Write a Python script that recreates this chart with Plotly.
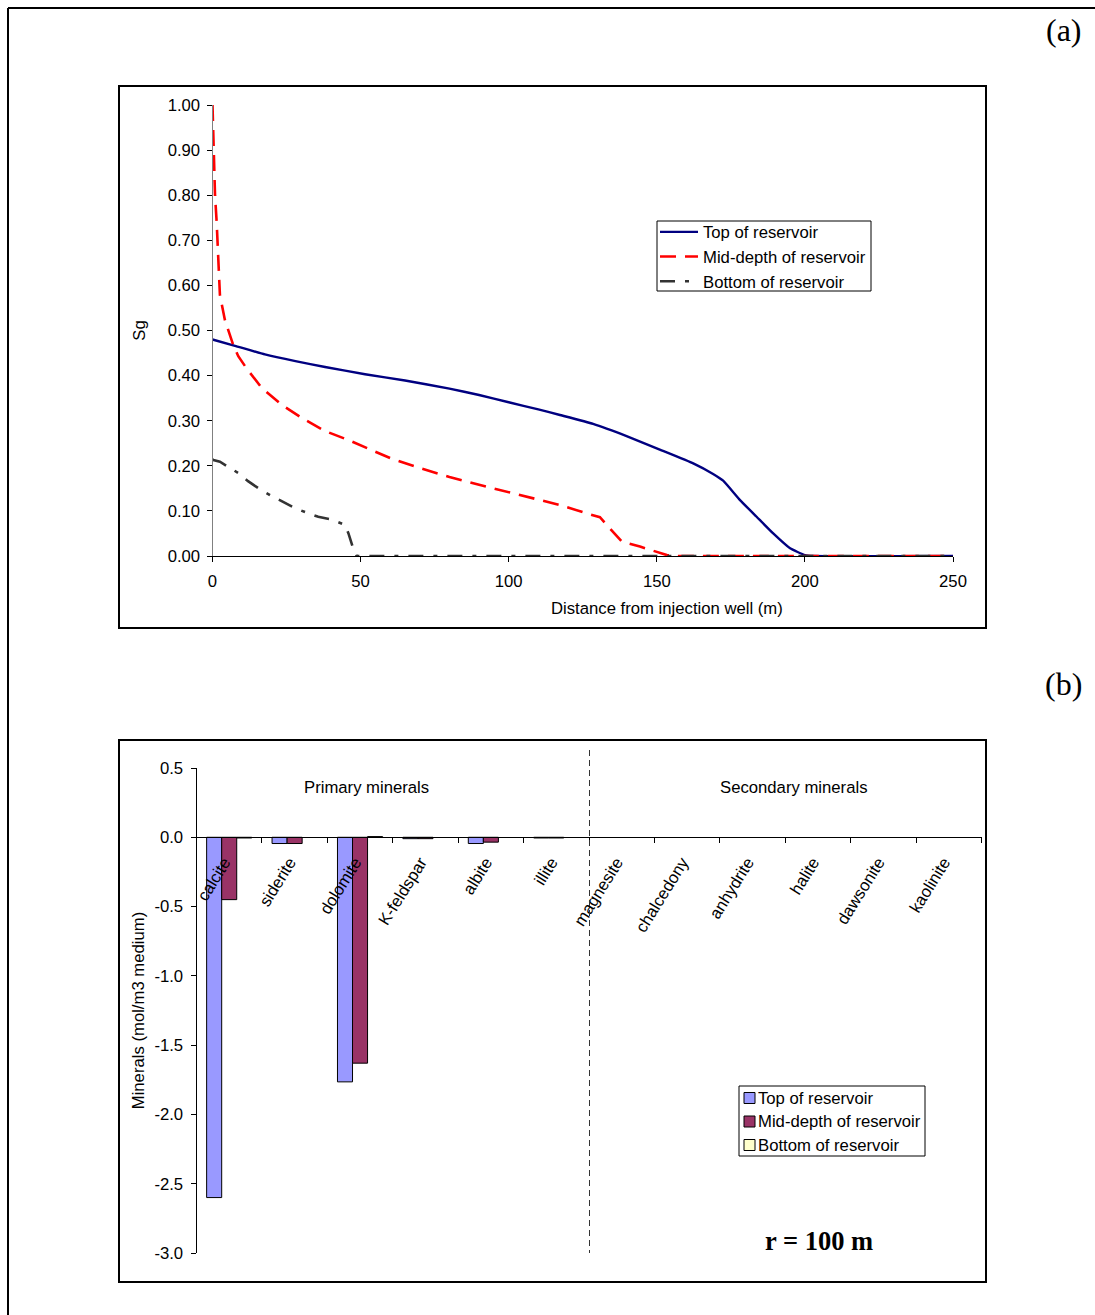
import plotly.graph_objects as go

W, H = 1095, 1315
FONT = "Liberation Sans"
SERIF = "Liberation Serif"
FS = 16.7
SERIES = ["Top of reservoir", "Mid-depth of reservoir", "Bottom of reservoir"]

# Panel (a): gas saturation profiles
top_x = [0, 7.6, 17.7, 28, 38, 51.5, 65, 80, 90, 100, 110, 117.3, 128.5, 139.8, 151, 162.3, 169, 172.4, 178.1, 183.7, 189.3, 195, 200, 203, 250]
top_sg = [0.48, 0.466, 0.447, 0.432, 0.419, 0.403, 0.389, 0.371, 0.357, 0.341, 0.325, 0.3126, 0.293, 0.266, 0.236, 0.2055, 0.182, 0.167, 0.124, 0.087, 0.05, 0.017, 0.002, 0.0, 0.0]
mid_x = [0, 0.4, 0.6, 0.85, 1.4, 1.75, 2, 2.5, 4.2, 7, 8.7, 11.5, 16.6, 23.4, 30.7, 38, 45.9, 60, 70, 80, 90, 100, 110, 117.3, 127.5, 130.8, 134.2, 138.2, 144.3, 149.4, 153.4, 157, 250]
mid_sg = [1.0, 0.911, 0.852, 0.8, 0.741, 0.686, 0.63, 0.579, 0.523, 0.468, 0.443, 0.416, 0.373, 0.335, 0.304, 0.277, 0.257, 0.217, 0.195, 0.175, 0.158, 0.142, 0.125, 0.113, 0.092, 0.086, 0.061, 0.032, 0.021, 0.0095, 0.002, 0.0, 0.0]
bot_x = [0, 0.3, 2.5, 5.3, 8.7, 12, 16, 20, 23.9, 27.9, 31.8, 35.7, 40.2, 44.7, 45.9, 47.5, 48.7, 250]
bot_sg = [0.214, 0.213, 0.209, 0.197, 0.184, 0.166, 0.148, 0.133, 0.12, 0.106, 0.096, 0.087, 0.081, 0.069, 0.05, 0.017, 0.0, 0.0]
sg_ticks = [0, 0.1, 0.2, 0.3, 0.4, 0.5, 0.6, 0.7, 0.8, 0.9, 1.0]
sg_labels = ["0.00", "0.10", "0.20", "0.30", "0.40", "0.50", "0.60", "0.70", "0.80", "0.90", "1.00"]

# Panel (b): mineral changes
minerals = ["calcite", "siderite", "dolomite", "K-feldspar", "albite", "illite", "magnesite", "chalcedony", "anhydrite", "halite", "dawsonite", "kaolinite"]
min_top = [-2.6, -0.045, -1.765, -0.01, -0.045, -0.005, 0, 0, 0, 0, 0, 0]
min_mid = [-0.45, -0.045, -1.63, -0.01, -0.035, -0.005, 0, 0, 0, 0, 0, 0]
min_bot = [-0.005, 0, 0.005, 0, 0, 0, 0, 0, 0, 0, 0, 0]
min_ticks = [0.5, 0, -0.5, -1, -1.5, -2, -2.5, -3]
min_labels = ["0.5", "0.0", "-0.5", "-1.0", "-1.5", "-2.0", "-2.5", "-3.0"]
BAR_COLOURS = ["#9999FF", "#993366", "#FFFFCC"]


def px(v):
    return v / W


def py(v):
    return 1 - v / H


fig = go.Figure()
fig.add_trace(go.Scatter(x=top_x, y=top_sg, mode="lines", name=SERIES[0], xaxis="x", yaxis="y",
                         line=dict(color="#000080", width=2.4, shape="spline", smoothing=0.4), legend="legend"))
fig.add_trace(go.Scatter(x=mid_x, y=mid_sg, mode="lines", name=SERIES[1], xaxis="x", yaxis="y",
                         line=dict(color="#FF0000", width=2.6, dash="16px,9px"), legend="legend"))
fig.add_trace(go.Scatter(x=bot_x, y=bot_sg, mode="lines", name=SERIES[2], xaxis="x", yaxis="y",
                         line=dict(color="#333333", width=2.6, dash="15px,10px,4px,10px"), legend="legend"))

for name, vals, col in zip(SERIES, [min_top, min_mid, min_bot], BAR_COLOURS):
    fig.add_trace(go.Bar(x=minerals, y=vals, name=name, xaxis="x2", yaxis="y2", showlegend=False,
                         marker=dict(color=col, line=dict(color="#000000", width=[1 if v else 0 for v in vals]))))

base_axis = dict(showgrid=False, zeroline=False, showline=True, linecolor="#000000", linewidth=1,
                 ticks="outside", ticklen=5, tickcolor="#000000", tickwidth=1,
                 tickfont=dict(family=FONT, size=FS, color="#000000"))


def note(text, x, y, family=FONT, size=FS, xanchor="center"):
    return dict(text=text, xref="paper", yref="paper", x=px(x), y=py(y), xanchor=xanchor, yanchor="middle",
                showarrow=False, font=dict(family=family, size=size, color="#000000"))


def box(x0, y0, x1, y1, width=2, fill="rgba(0,0,0,0)"):
    return dict(type="rect", xref="paper", yref="paper", x0=px(x0), x1=px(x1), y0=py(y0), y1=py(y1),
                line=dict(color="#000", width=width), fillcolor=fill)


legend2_rows = [1098, 1121.5, 1145]

fig.update_layout(
    width=W, height=H, margin=dict(l=0, r=0, t=0, b=0, pad=0, autoexpand=False), autosize=False,
    paper_bgcolor="#FFFFFF", plot_bgcolor="rgba(0,0,0,0)", barmode="group", bargap=0.31, bargroupgap=0,
    font=dict(family=FONT, size=FS, color="#000000"), showlegend=True,
    xaxis=dict(base_axis, domain=[px(212.5), px(953)], range=[0, 250], tickvals=[0, 50, 100, 150, 200, 250],
               ticklabelstandoff=5, anchor="y"),
    yaxis=dict(base_axis, domain=[py(556), py(105)], range=[0, 1], tickvals=sg_ticks, ticktext=sg_labels, anchor="x",
               linecolor="#808080", ticklabelstandoff=3, title=dict(text="Sg", font=dict(family=FONT, size=FS), standoff=17)),
    xaxis2=dict(base_axis, domain=[px(196.5), px(981.5)], range=[-0.5, 11.5], type="category", categoryorder="array",
                categoryarray=minerals, tickangle=-58, tickson="boundaries", anchor="free", position=py(837),
                ticklabelstandoff=8, ticklabelshift=-5),
    yaxis2=dict(base_axis, domain=[py(1253), py(768)], range=[-3, 0.5], tickvals=min_ticks, ticktext=min_labels, anchor="x2",
                ticklabelstandoff=4, title=dict(text="Minerals (mol/m3 medium)", font=dict(family=FONT, size=FS), standoff=5)),
    legend=dict(bgcolor="rgba(0,0,0,0)", borderwidth=0, xanchor="left", yanchor="top", x=px(655), y=py(214.5), itemwidth=38,
                font=dict(family=FONT, size=FS, color="#000000"), traceorder="normal"),
    shapes=[
        dict(type="line", xref="paper", yref="paper", x0=px(8), x1=1, y0=py(8), y1=py(8), line=dict(color="#000", width=2)),
        dict(type="line", xref="paper", yref="paper", x0=px(8), x1=px(8), y0=py(8), y1=0, line=dict(color="#000", width=2)),
        box(119, 86, 986, 628),
        box(119, 740, 986, 1282),
        box(657, 221, 871, 291, 1, "#FFFFFF"),
        box(739, 1086, 925, 1156, 1, "#FFFFFF"),
        dict(type="line", xref="paper", yref="paper", x0=px(589.5), x1=px(589.5), y0=py(750), y1=py(1253),
             line=dict(color="#333", width=1, dash="6px,4px")),
    ] + [box(744, r - 5.5, 755, r + 5.5, 1, c) for r, c in zip(legend2_rows, BAR_COLOURS)],
    annotations=[
        note("(a)", 1064, 30, SERIF, 32),
        note("(b)", 1063, 684, SERIF, 32),
        note("Distance from injection well (m)", 666.5, 608),
        note("Primary minerals", 366.5, 787),
        note("Secondary minerals", 793, 787),
        note("<b>r = 100 m</b>", 819, 1241, SERIF, 26.5),
    ] + [note(s, 755.5, r, xanchor="left") for s, r in zip(SERIES, legend2_rows)],
)

fig.write_html("out.html", config={"displayModeBar": False},
               post_script="document.body.style.margin='0';document.body.style.overflow='hidden';")
